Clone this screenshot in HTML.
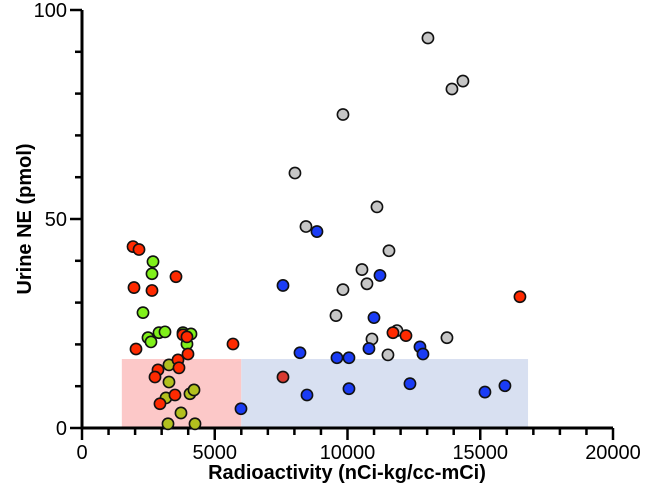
<!DOCTYPE html>
<html><head><meta charset="utf-8"><style>
body{margin:0;background:#fff}
svg{display:block;font-family:"Liberation Sans",Arial,sans-serif}
</style></head><body>
<svg id="chart" width="645" height="498" xmlns="http://www.w3.org/2000/svg">
<g id="bands"></g><g id="axes"></g><g id="points"></g>
</svg>
<script>
const redX=[1921,2147,3540,1958,2636,2034,3804,3954,3992,3615,3653,2862,2749,3502,2937,5687,11712,12202,16495];
const redY=[43.4,42.7,36.2,33.6,32.9,18.9,22.3,21.8,17.7,16.3,14.4,13.9,12.2,7.9,5.8,20.1,22.8,22.1,31.4];
const darkRedX=[7570];
const darkRedY=[12.2];
const greenX=[2674,2636,2297,2486,2598,2900,3126,3804,4105,3954];
const greenY=[39.8,36.9,27.6,21.6,20.6,22.8,23.0,22.8,22.5,20.1];
const oliveX=[3276,3276,4067,4218,3163,3728,3239,4256];
const oliveY=[15.1,11.0,8.2,9.1,7.2,3.6,1.0,1.0];
const grayX=[13030,13934,14348,9829,8021,11110,8436,11562,10545,10733,9829,9566,11863,10921,13746,11524];
const grayY=[93.3,81.1,83.0,75,61,52.9,48.2,42.4,37.9,34.5,33.1,26.9,23.3,21.3,21.6,17.5];
const blueX=[8850,11223,7570,10997,10808,8210,9603,10055,12729,12842,8474,10055,12353,15177,15930,5988];
const blueY=[47,36.5,34.1,26.4,19,18,16.8,16.8,19.4,17.7,7.9,9.4,10.6,8.6,10.1,4.6];
const xTicks=[0,5000,10000,15000,20000];
const yTicks=[0,50,100];
const NS="http://www.w3.org/2000/svg";
const X0=82,X1=613,Y0=428,Y1=10;
function sx(v){return X0+(v/20000)*(X1-X0);}
function sy(v){return Y0-(v/100)*(Y0-Y1);}
function mk(tag,attrs,parent){const e=document.createElementNS(NS,tag);for(const k in attrs)e.setAttribute(k,attrs[k]);parent.appendChild(e);return e;}
const bands=document.getElementById('bands');
let r1=mk('rect',{x:sx(1500),y:sy(16.5),width:sx(6000)-sx(1500),height:Y0-sy(16.5),fill:'#fcc8c8'},bands);


let r2=mk('rect',{x:sx(6000),y:sy(16.5),width:sx(16800)-sx(6000),height:Y0-sy(16.5),fill:'#d8e0f1'},bands);


const ax=document.getElementById('axes');
let ya=mk('line',{x1:X0,y1:Y1,x2:X0,y2:Y0+1.5,stroke:'#000','stroke-width':3},ax);


let xa=mk('line',{x1:X0-1.5,y1:Y0,x2:X1,y2:Y0,stroke:'#000','stroke-width':3},ax);


for(let v=0;v<=100;v+=10){const big=v%50===0;mk('line',{x1:X0-(big?12:7),y1:sy(v),x2:X0,y2:sy(v),stroke:'#000','stroke-width':2.5},ax);}
for(let v=0;v<=20000;v+=1000){const big=v%5000===0;mk('line',{x1:sx(v),y1:Y0,x2:sx(v),y2:Y0+(big?12:7),stroke:'#000','stroke-width':2.5},ax);}
yTicks.forEach(v=>{const t=mk('text',{x:X0-15,y:sy(v)+7,'text-anchor':'end','font-size':20},ax);t.textContent=v;

});
xTicks.forEach(v=>{const t=mk('text',{x:sx(v),y:Y0+31,'text-anchor':'middle','font-size':20},ax);t.textContent=v;

});
const xt=mk('text',{x:347,y:479,'text-anchor':'middle','font-size':20,'font-weight':'bold'},ax);xt.textContent='Radioactivity (nCi-kg/cc-mCi)';


const yt=mk('text',{x:0,y:0,'text-anchor':'middle','font-size':20,'font-weight':'bold',transform:'translate(31,219) rotate(-90)'},ax);yt.textContent='Urine NE (pmol)';


const pts=document.getElementById('points');
function series(xs,ys,col,name){xs.forEach((x,i)=>{const c=mk('circle',{cx:sx(x),cy:sy(ys[i]),r:5.6,fill:col,stroke:'#111','stroke-width':1.6},pts);

});}
series(grayX,grayY,'#c6c6c6','gray-point');
series(blueX,blueY,'#1a3cf5','blue-point');
series(oliveX,oliveY,'#b2c01e','olive-point');
series(greenX,greenY,'#80f01a','green-point');
series(redX,redY,'#ff2a00','red-point');
series(darkRedX,darkRedY,'#d83a30','dark-red-point');
</script>
</body></html>
